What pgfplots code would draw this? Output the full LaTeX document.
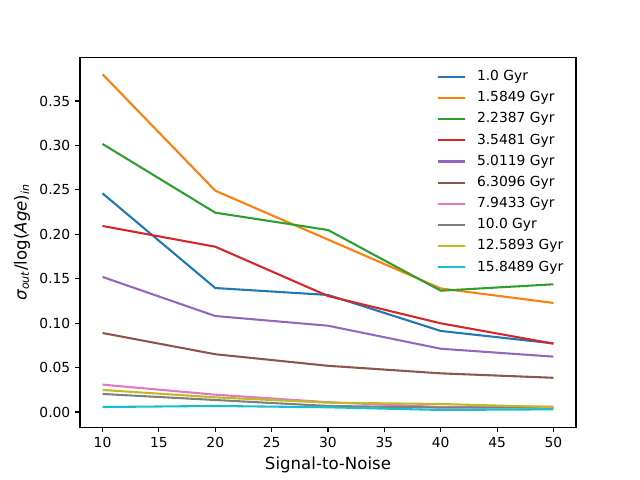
\documentclass[border=0pt]{standalone}
\usepackage{pgfplots}
\pgfplotsset{compat=1.18}
\usepackage{fontspec}
\setmainfont{DejaVu Sans}
\definecolor{C0}{HTML}{1F77B4}
\definecolor{C1}{HTML}{FF7F0E}
\definecolor{C2}{HTML}{2CA02C}
\definecolor{C3}{HTML}{D62728}
\definecolor{C4}{HTML}{9467BD}
\definecolor{C5}{HTML}{8C564B}
\definecolor{C6}{HTML}{E377C2}
\definecolor{C7}{HTML}{7F7F7F}
\definecolor{C8}{HTML}{BCBD22}
\definecolor{C9}{HTML}{17BECF}
\begin{document}
\begin{tikzpicture}
\useasboundingbox (-57.6bp,-38.016bp) rectangle (403.2bp,307.584bp);
\begin{axis}[
  at={(0,0)}, anchor=south west,
  scale only axis, width=357.12bp, height=266.112bp,
  xmin=8, xmax=52, ymin=-0.0171, ymax=0.3988,
  xtick={10,15,...,50},
  ytick={0,0.05,...,0.36},
  /pgf/number format/assume math mode=true,
  yticklabel style={/pgf/number format/.cd, fixed, fixed zerofill, precision=2},
  scaled y ticks=false,
  tick label style={font=\fontsize{10}{12}\selectfont},
  tick align=outside, tick pos=left,
  major tick length=3.5pt,
  every tick/.style={black, line width=0.8pt},
  axis line style={line width=0.8pt},
  xlabel={Signal-to-Noise},
  ylabel={\textit{σ}\textsubscript{\textit{out}}/log(\textit{Age})\textsubscript{\textit{in}}},
  label style={font=\fontsize{12}{14}\selectfont},
  xlabel style={yshift=0pt},
  ylabel style={yshift=0pt},
  legend style={draw=none, fill=none, at={(1,1)}, anchor=north east,
    xshift=-4pt, yshift=-7pt, font=\fontsize{10}{12}\selectfont,
    row sep=5.9pt,
    nodes={inner ysep=0pt, text height=7.4pt, text depth=2pt},
    /tikz/every odd column/.append style={column sep=5.8bp}},
  legend cell align=left,
  legend image code/.code={\draw[#1, line width=1.5pt] (0pt,0pt) -- (20pt,0pt);},
  every axis plot/.append style={line width=1.5pt},
]
\addplot[C0] coordinates {(10,0.246) (20,0.1395) (30,0.1317) (40,0.0912) (50,0.0772)};
\addlegendentry{1.0 Gyr}
\addplot[C1] coordinates {(10,0.380) (20,0.249) (30,0.194) (40,0.139) (50,0.1227)};
\addlegendentry{1.5849 Gyr}
\addplot[C2] coordinates {(10,0.3016) (20,0.2243) (30,0.2048) (40,0.1365) (50,0.1437)};
\addlegendentry{2.2387 Gyr}
\addplot[C3] coordinates {(10,0.2093) (20,0.186) (30,0.1305) (40,0.0998) (50,0.0769)};
\addlegendentry{3.5481 Gyr}
\addplot[C4] coordinates {(10,0.152) (20,0.108) (30,0.0971) (40,0.0712) (50,0.0623)};
\addlegendentry{5.0119 Gyr}
\addplot[C5] coordinates {(10,0.0889) (20,0.065) (30,0.052) (40,0.0435) (50,0.0385)};
\addlegendentry{6.3096 Gyr}
\addplot[C6] coordinates {(10,0.0308) (20,0.0195) (30,0.011) (40,0.0056) (50,0.0060)};
\addlegendentry{7.9433 Gyr}
\addplot[C7] coordinates {(10,0.0203) (20,0.0135) (30,0.0068) (40,0.0050) (50,0.0050)};
\addlegendentry{10.0 Gyr}
\addplot[C8] coordinates {(10,0.0248) (20,0.0165) (30,0.0105) (40,0.0090) (50,0.0055)};
\addlegendentry{12.5893 Gyr}
\addplot[C9] coordinates {(10,0.0056) (20,0.0068) (30,0.0053) (40,0.0023) (50,0.0030)};
\addlegendentry{15.8489 Gyr}
\end{axis}
\end{tikzpicture}
\end{document}
